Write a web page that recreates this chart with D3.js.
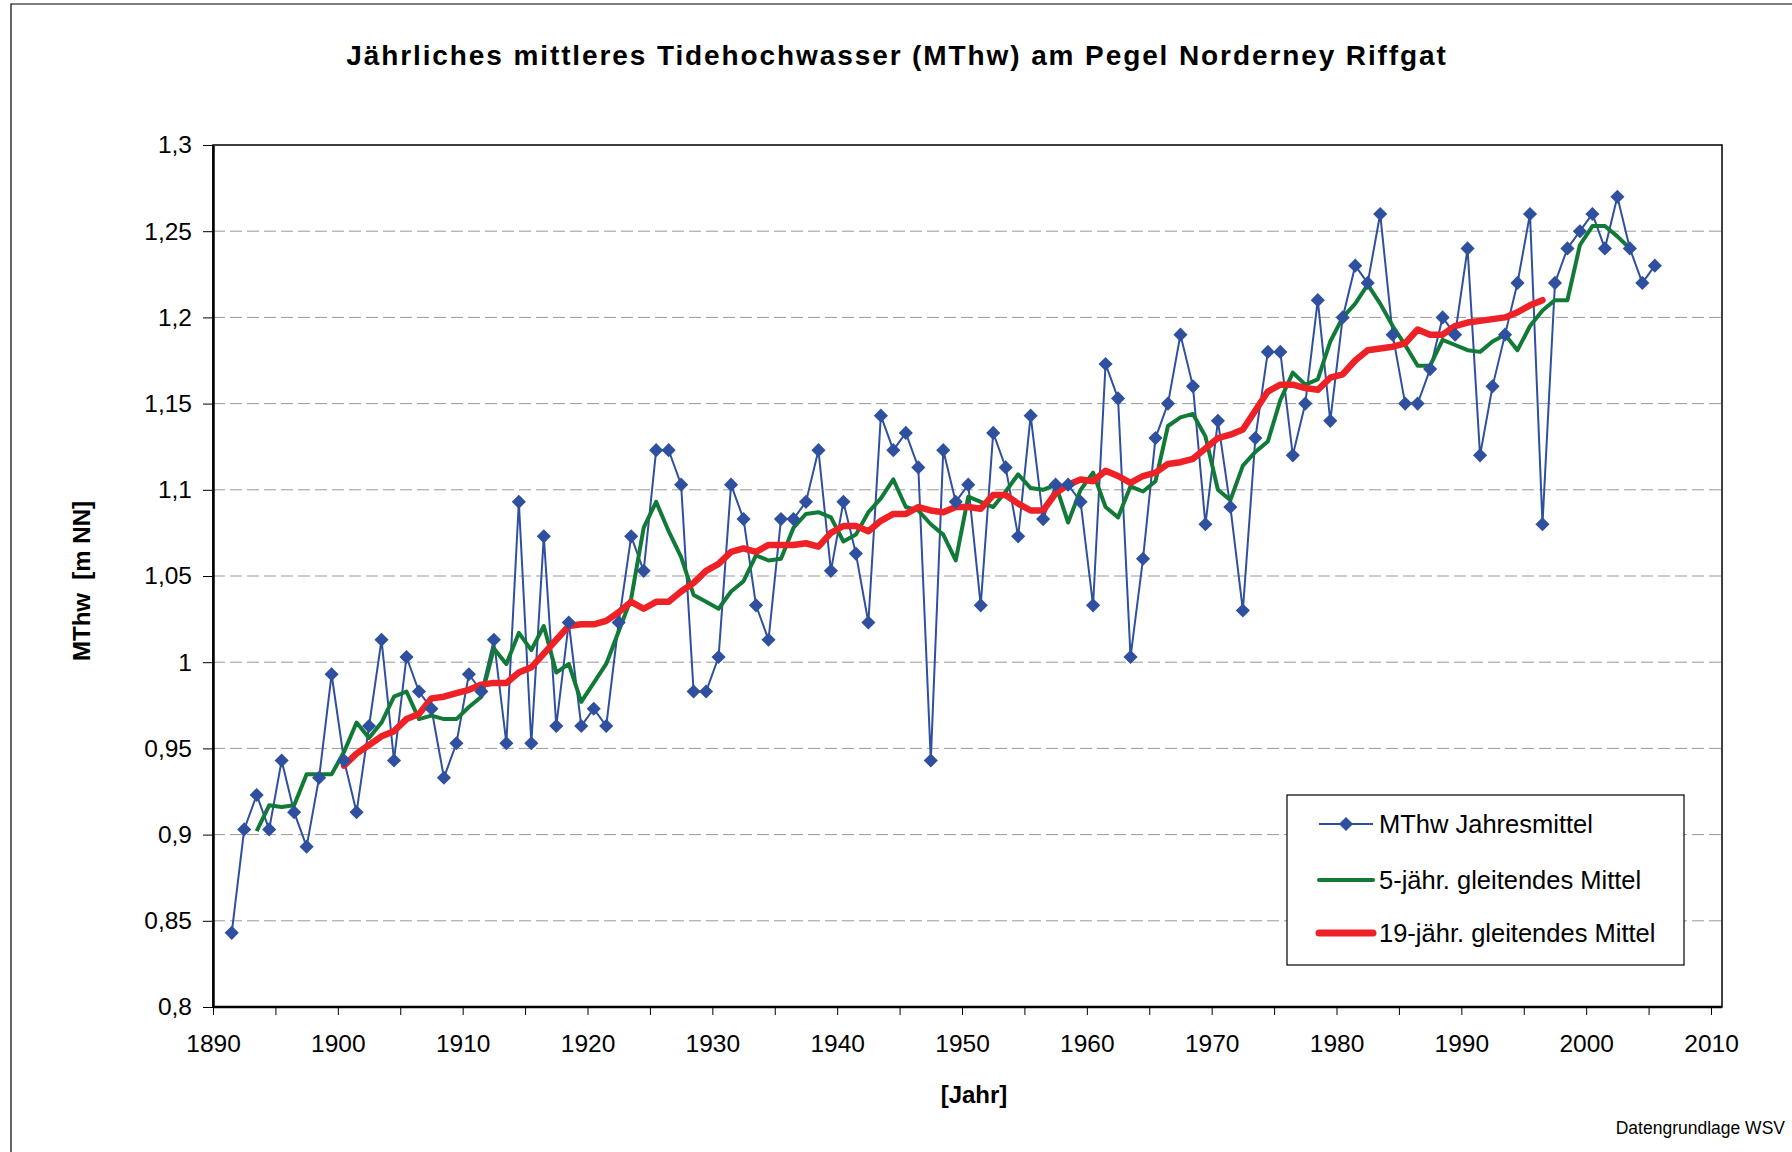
<!DOCTYPE html>
<html lang="de">
<head>
<meta charset="UTF-8">
<title>MThw Norderney Riffgat</title>
<script src="https://cdn.jsdelivr.net/npm/d3@7"></script>
<style>
  body { margin: 0; background: #fff; font-family: "Liberation Sans", Arial, sans-serif; }
  svg text { font-family: "Liberation Sans", Arial, sans-serif; fill: #000; }
  .grid line { stroke: #999; stroke-width: 1; stroke-dasharray: 12,5; }
  .axis path, .axis line { stroke: #000; }
</style>
</head>
<body>
<svg id="chart" width="1792" height="1152"></svg>
<script>
// Jahresmittel MThw [m NN], 1891..2005
const yearsAnnual = d3.range(1891, 2006);
const annual = [
  0.843, 0.903, 0.923, 0.903, 0.943, 0.913, 0.893, 0.933, 0.993, 0.943,
  0.913, 0.963, 1.013, 0.943, 1.003, 0.983, 0.973, 0.933, 0.953, 0.993,
  0.983, 1.013, 0.953, 1.093, 0.953, 1.073, 0.963, 1.023, 0.963, 0.973,
  0.963, 1.023, 1.073, 1.053, 1.123, 1.123, 1.103, 0.983, 0.983, 1.003,
  1.103, 1.083, 1.033, 1.013, 1.083, 1.083, 1.093, 1.123, 1.053, 1.093,
  1.063, 1.023, 1.143, 1.123, 1.133, 1.113, 0.943, 1.123, 1.093, 1.103,
  1.033, 1.133, 1.113, 1.073, 1.143, 1.083, 1.103, 1.103, 1.093, 1.033,
  1.173, 1.153, 1.003, 1.060, 1.130, 1.150, 1.190, 1.160, 1.080, 1.140,
  1.090, 1.030, 1.130, 1.180, 1.180, 1.120, 1.150, 1.210, 1.140, 1.200,
  1.230, 1.220, 1.260, 1.190, 1.150, 1.150, 1.170, 1.200, 1.190, 1.240,
  1.120, 1.160, 1.190, 1.220, 1.260, 1.080, 1.220, 1.240, 1.250, 1.260,
  1.240, 1.270, 1.240, 1.220, 1.230
];

// 5-jaehr. gleitendes Mittel, 1893..2003
const years5 = d3.range(1893, 2004);
const mean5 = [
  0.902, 0.917, 0.916, 0.917, 0.935, 0.935, 0.935, 0.948, 0.965, 0.956,
  0.965, 0.980, 0.983, 0.967, 0.969, 0.967, 0.967, 0.974, 0.980, 1.008,
  0.999, 1.017, 1.007, 1.021, 0.994, 0.999, 0.977, 0.988, 0.999, 1.018,
  1.037, 1.078, 1.093, 1.076, 1.061, 1.039, 1.035, 1.031, 1.041, 1.047,
  1.062, 1.059, 1.060, 1.078, 1.086, 1.087, 1.084, 1.070, 1.074, 1.087,
  1.095, 1.106, 1.090, 1.088, 1.080, 1.074, 1.059, 1.096, 1.093, 1.090,
  1.099, 1.109, 1.101, 1.100, 1.103, 1.081, 1.100, 1.110, 1.090, 1.084,
  1.102, 1.099, 1.105, 1.137, 1.142, 1.144, 1.131, 1.100, 1.094, 1.114,
  1.122, 1.128, 1.152, 1.168, 1.161, 1.164, 1.186, 1.200, 1.208, 1.219,
  1.208, 1.195, 1.184, 1.172, 1.172, 1.187, 1.184, 1.181, 1.180, 1.186,
  1.190, 1.181, 1.195, 1.204, 1.210, 1.210, 1.242, 1.253, 1.253, 1.247,
  1.240
];

// 19-jaehr. gleitendes Mittel, 1900..1996
const years19 = d3.range(1900, 1997);
const mean19 = [
  0.940, 0.947, 0.952, 0.957, 0.960, 0.967, 0.970, 0.979, 0.980, 0.982,
  0.984, 0.987, 0.988, 0.988, 0.994, 0.997, 1.005, 1.013, 1.021, 1.022,
  1.022, 1.024, 1.029, 1.035, 1.031, 1.035, 1.035, 1.041, 1.046, 1.053,
  1.057, 1.064, 1.066, 1.064, 1.068, 1.068, 1.068, 1.069, 1.067, 1.075,
  1.079, 1.079, 1.076, 1.082, 1.086, 1.086, 1.090, 1.088, 1.087, 1.090,
  1.090, 1.089, 1.097, 1.097, 1.092, 1.088, 1.088, 1.098, 1.103, 1.106,
  1.105, 1.111, 1.108, 1.104, 1.108, 1.110, 1.115, 1.116, 1.118, 1.124,
  1.130, 1.132, 1.135, 1.146, 1.157, 1.161, 1.161, 1.159, 1.158, 1.165,
  1.167, 1.175, 1.181, 1.182, 1.183, 1.185, 1.193, 1.190, 1.190, 1.195,
  1.197, 1.198, 1.199, 1.200, 1.203, 1.207, 1.210
];

const yTicks = [0.8, 0.85, 0.9, 0.95, 1.0, 1.05, 1.1, 1.15, 1.2, 1.25, 1.3];
const xTicks = d3.range(1890, 2011, 5);
const seriesNames = ["MThw Jahresmittel", "5-jähr. gleitendes Mittel", "19-jähr. gleitendes Mittel"];

const svg = d3.select("#chart");
const blue = "#2f4f9f", green = "#107a36", red = "#ee2226";

// outer chart frame (only left and top edges visible)
svg.append("path").attr("d", "M11,1152V4H1792").attr("fill", "none").attr("stroke", "#000").attr("stroke-width", 1.2);

const plot = { left: 213, top: 145, right: 1722, bottom: 1007 };
const x = d3.scaleLinear().domain([1890, 2010]).range([plot.left, 1711]);
const y = d3.scaleLinear().domain([0.8, 1.3]).range([plot.bottom, plot.top]);
const fmtY = d => d3.format("~g")(+d.toFixed(2)).replace(".", ",");

// gridlines
svg.append("g").attr("class", "grid")
  .selectAll("line").data(yTicks.slice(1, -1)).join("line")
  .attr("x1", plot.left).attr("x2", plot.right)
  .attr("y1", d => y(d)).attr("y2", d => y(d));

// plot frame
svg.append("rect")
  .attr("x", plot.left).attr("y", plot.top)
  .attr("width", plot.right - plot.left).attr("height", plot.bottom - plot.top)
  .attr("fill", "none").attr("stroke", "#000").attr("stroke-width", 1.5);

// axes
const yAxis = svg.append("g").attr("class", "axis")
  .attr("transform", `translate(${plot.left},0)`)
  .call(d3.axisLeft(y).tickValues(yTicks).tickFormat(fmtY).tickSize(10).tickPadding(11).tickSizeOuter(0));
yAxis.select(".domain").attr("stroke-width", 2.5);
yAxis.selectAll("text").style("font-size", "24.5px");

const xAxis = svg.append("g").attr("class", "axis")
  .attr("transform", `translate(0,${plot.bottom})`)
  .call(d3.axisBottom(x).tickValues(xTicks).tickFormat(d => d % 10 === 0 ? d : "").tickSize(8).tickPadding(20).tickSizeOuter(0));
xAxis.select(".domain").attr("d", `M${plot.left},0H${plot.right}`).attr("stroke-width", 2.5);
xAxis.selectAll("text").style("font-size", "24.5px");

// series (points drawn at mid-year)
const line = d3.line().x(d => x(d[0] + 0.5)).y(d => y(d[1]));
const annualPts = yearsAnnual.map((yr, i) => [yr, annual[i]]);
const pts5 = years5.map((yr, i) => [yr, mean5[i]]);
const pts19 = years19.map((yr, i) => [yr, mean19[i]]);

svg.append("path").datum(annualPts).attr("d", line)
  .attr("fill", "none").attr("stroke", blue).attr("stroke-width", 2);
svg.append("path").datum(pts5).attr("d", line)
  .attr("fill", "none").attr("stroke", green).attr("stroke-width", 4).attr("stroke-linejoin", "round");
svg.append("path").datum(pts19).attr("d", line)
  .attr("fill", "none").attr("stroke", red).attr("stroke-width", 6.5)
  .attr("stroke-linejoin", "round").attr("stroke-linecap", "round");

const diamond = d3.symbol(d3.symbolSquare, 100);
svg.append("g").selectAll("path").data(annualPts).join("path")
  .attr("d", diamond)
  .attr("transform", d => `translate(${x(d[0] + 0.5)},${y(d[1])}) rotate(45)`)
  .attr("fill", blue);

// legend
const lg = svg.append("g").attr("transform", "translate(1287,795)");
lg.append("rect").attr("width", 397).attr("height", 170)
  .attr("fill", "#fff").attr("stroke", "#000").attr("stroke-width", 1.2);
const rows = [29, 85, 138];
const styles = [
  { c: blue, w: 2 },
  { c: green, w: 4 },
  { c: red, w: 7 }
];
seriesNames.forEach((name, i) => {
  lg.append("line").attr("x1", 32).attr("x2", 86).attr("y1", rows[i]).attr("y2", rows[i])
    .attr("stroke", styles[i].c).attr("stroke-width", styles[i].w).attr("stroke-linecap", i ? "round" : "butt");
  if (i === 0) {
    lg.append("path").attr("d", diamond)
      .attr("transform", `translate(59,${rows[i]}) rotate(45)`).attr("fill", blue);
  }
  lg.append("text").attr("x", 92).attr("y", rows[i]).attr("dy", "0.35em")
    .style("font-size", "25.5px").text(name);
});

// titles
svg.append("text").attr("x", 897).attr("y", 55).attr("dy", "0.35em").attr("text-anchor", "middle")
  .style("font-size", "28px").style("font-weight", "bold").style("letter-spacing", "1.9px")
  .text("Jährliches mittleres Tidehochwasser (MThw) am Pegel Norderney Riffgat");
svg.append("text").attr("x", 974).attr("y", 1095).attr("dy", "0.35em").attr("text-anchor", "middle")
  .style("font-size", "24px").style("font-weight", "bold").text("[Jahr]");
svg.append("text").attr("transform", "translate(82,581) rotate(-90)").attr("dy", "0.35em").attr("text-anchor", "middle")
  .style("font-size", "24px").style("font-weight", "bold").attr("xml:space", "preserve").text("MThw  [m NN]");
svg.append("text").attr("x", 1785).attr("y", 1128).attr("dy", "0.35em").attr("text-anchor", "end")
  .style("font-size", "17.5px").text("Datengrundlage WSV");
</script>
</body>
</html>
